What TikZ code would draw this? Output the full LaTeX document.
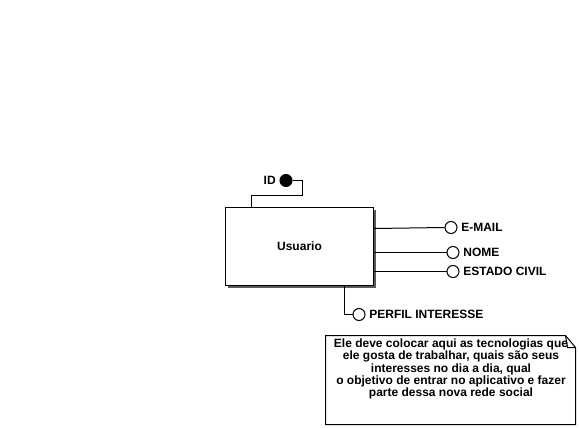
\documentclass[tikz,border=0pt]{standalone}
\usepackage{fontspec}
\setmainfont{Liberation Sans}
\begin{document}
\begin{tikzpicture}[x=1pt,y=-1pt,line width=1pt,font=\fontsize{12}{12.3}\selectfont\bfseries]
  \tikzset{attr/.style={circle,draw,fill=white,minimum size=12pt,inner sep=0pt},
           chave/.style={attr,fill=black}}
  \useasboundingbox (0,0) rectangle (579,428);

  % entidade
  \fill[black!65] (228,210) rectangle (376,288);
  \node[draw,fill=white,minimum width=148pt,minimum height=78pt] (usuario) at (299.5,246.5) {Usuario};

  % atributos
  \node[chave,label=left:ID] (id) at (286,180.5) {};
  \node[attr,label=right:E-MAIL] (email) at (451,227.5) {};
  \node[attr,label=right:NOME] (nome) at (453,252.5) {};
  \node[attr,label=right:ESTADO CIVIL] (estado) at (453,271.5) {};
  \node[attr,label=right:PERFIL INTERESSE] (perfil) at (359,314.5) {};

  \draw (id.east) -| (302.5,195.5) -| (251.5,0 |- usuario.north);
  \draw (usuario.east |- 0,228.5) -- (email.west);
  \draw (usuario.east |- nome) -- (nome.west);
  \draw (usuario.east |- estado) -- (estado.west);
  \draw (344.5,0 |- usuario.south) |- (perfil.west);

  % nota
  \draw[fill=white] (325.5,335.5) -- (565.5,335.5) -- (575.5,347.5) -- (575.5,424.5) -- (325.5,424.5) -- cycle;
  \draw (565.5,335.5) -- (567.5,347.5) -- (575.5,347.5);
  \node[align=center] (nota) at (451,369) {Ele deve colocar aqui as tecnologias que\\
    ele gosta de trabalhar, quais são seus\\
    interesses no dia a dia, qual\\
    o objetivo de entrar no aplicativo e fazer\\
    parte dessa nova rede social};
\end{tikzpicture}
\end{document}
